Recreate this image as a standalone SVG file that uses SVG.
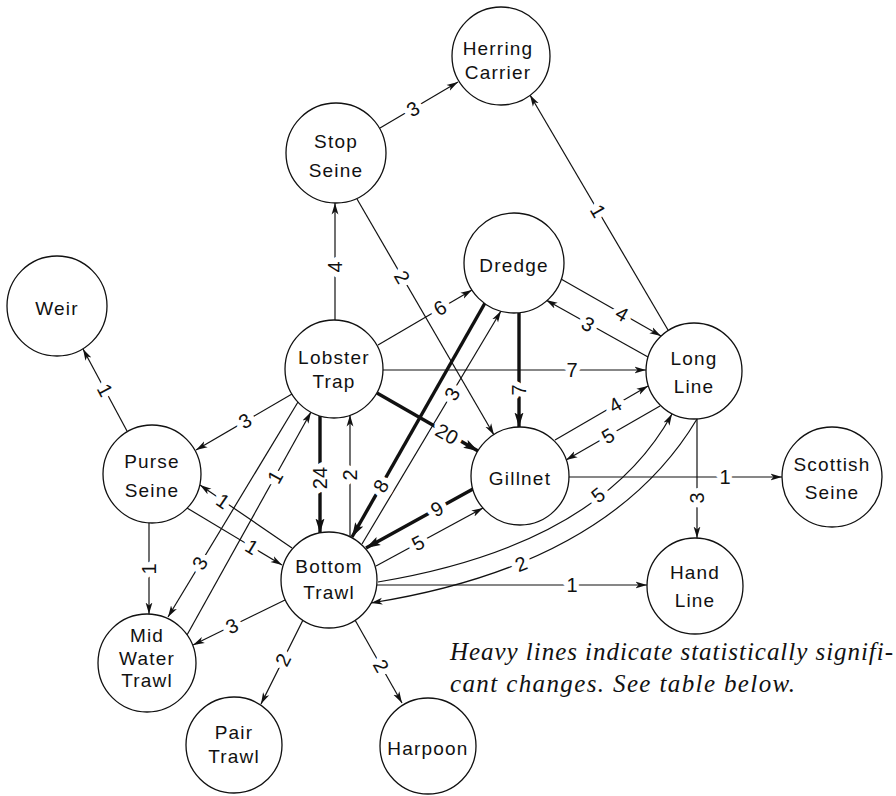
<svg xmlns="http://www.w3.org/2000/svg" width="896" height="796" viewBox="0 0 896 796">
<defs>
<style>
.e{fill:none;stroke:#111;stroke-width:1.2;marker-end:url(#a)}
.h{fill:none;stroke:#111;stroke-width:3.4;marker-end:url(#ah)}
.lb{font-family:"Liberation Sans",Arial,sans-serif;font-size:20px;fill:#111;text-anchor:middle;dominant-baseline:central;stroke:#fff;stroke-width:11px;stroke-linejoin:round;paint-order:stroke}
.n circle{fill:#fff;stroke:#111;stroke-width:1.3}
.n text{font-family:"Liberation Sans",Arial,sans-serif;font-size:19px;letter-spacing:1.2px;fill:#111;text-anchor:middle}
.cap{font-family:"Liberation Serif","Times New Roman",serif;font-style:italic;font-size:25px;fill:#111}
</style>
<marker id="a" markerUnits="userSpaceOnUse" markerWidth="12" markerHeight="8" viewBox="0 0 12 8" refX="11.5" refY="4" orient="auto"><path d="M0,0.6 L11.5,4 L0,7.4 L3,4 z" fill="#111"/></marker>
<marker id="ah" markerUnits="userSpaceOnUse" markerWidth="15" markerHeight="10" viewBox="0 0 15 10" refX="14.5" refY="5" orient="auto"><path d="M0,0.5 L14.5,5 L0,9.5 L3,5 z" fill="#111"/></marker>
</defs>
<rect width="896" height="796" fill="#fff"/>
<g id="connectors">
<path class="e" d="M380,128 L458,82"/>
<path class="e" d="M668,330 L530,95"/>
<path class="e" d="M335,320 L335,203"/>
<path class="e" d="M357,199 L494,435"/>
<path class="e" d="M378,345 L472,290"/>
<path class="e" d="M383,370 L646,370"/>
<path class="h" d="M377,393 L478,451"/>
<path class="e" d="M292,394 L196,450"/>
<path class="h" d="M320,416 L320,533"/>
<path class="e" d="M350,537 L350,415"/>
<path class="e" d="M362,544 L501,311"/>
<path class="h" d="M485,303 L352,537"/>
<path class="h" d="M519,313 L519,427"/>
<path class="e" d="M561,279 L661,336"/>
<path class="e" d="M648,357 L546,300"/>
<path class="e" d="M555,440 L648,386"/>
<path class="e" d="M660,406 L566,460"/>
<path class="e" d="M569,477 L782,477"/>
<path class="e" d="M697,419 L697,538"/>
<path class="h" d="M473,489 L366,548"/>
<path class="e" d="M376,566 L483,508"/>
<path class="e" d="M378,582 Q600,545 672,414"/>
<path class="e" d="M697,419 Q610,565 371,603"/>
<path class="e" d="M377,585 L647,585"/>
<path class="e" d="M292,548 L200,485"/>
<path class="e" d="M187,508 L282,565"/>
<path class="e" d="M127,431 L83,349"/>
<path class="e" d="M149,523 L149,614"/>
<path class="e" d="M298,402 L168,617"/>
<path class="e" d="M187,635 L311,412"/>
<path class="e" d="M285,600 L193,645"/>
<path class="e" d="M303,620 L261,704"/>
<path class="e" d="M355,620 L402,703"/>
<g id="edge-labels">
<text class="lb" transform="translate(413,109) rotate(-30.5)">3</text>
<text class="lb" transform="translate(598,211) rotate(59.7)">1</text>
<text class="lb" transform="translate(335,267) rotate(-90)">4</text>
<text class="lb" transform="translate(402,277) rotate(59.9)">2</text>
<text class="lb" transform="translate(440,308) rotate(-30.3)">6</text>
<text class="lb" transform="translate(572,370)">7</text>
<text class="lb" transform="translate(447,434) rotate(29.8)">20</text>
<text class="lb" transform="translate(245,421) rotate(-30.2)">3</text>
<text class="lb" transform="translate(320,478) rotate(-90)">24</text>
<text class="lb" transform="translate(350,475) rotate(-90)">2</text>
<text class="lb" transform="translate(452,394) rotate(-59.2)">3</text>
<text class="lb" transform="translate(381,486) rotate(-60.4)">8</text>
<text class="lb" transform="translate(519,390) rotate(-90)">7</text>
<text class="lb" transform="translate(622,314) rotate(29.7)">4</text>
<text class="lb" transform="translate(588,324) rotate(29.1)">3</text>
<text class="lb" transform="translate(615,405) rotate(-30)">4</text>
<text class="lb" transform="translate(608,436) rotate(-30.1)">5</text>
<text class="lb" transform="translate(725,477)">1</text>
<text class="lb" transform="translate(697,498) rotate(-90)">3</text>
<text class="lb" transform="translate(437,509) rotate(-29)">9</text>
<text class="lb" transform="translate(418,543) rotate(-28.4)">5</text>
<text class="lb" transform="translate(598,495) rotate(-38)">5</text>
<text class="lb" transform="translate(521,564) rotate(-22)">2</text>
<text class="lb" transform="translate(572,585)">1</text>
<text class="lb" transform="translate(223,501) rotate(34.3)">1</text>
<text class="lb" transform="translate(252,547) rotate(31.1)">1</text>
<text class="lb" transform="translate(105,390) rotate(61.9)">1</text>
<text class="lb" transform="translate(149,569) rotate(-90)">1</text>
<text class="lb" transform="translate(200,563) rotate(-58.8)">3</text>
<text class="lb" transform="translate(275,477) rotate(-60.9)">1</text>
<text class="lb" transform="translate(232,626) rotate(-26)">3</text>
<text class="lb" transform="translate(283,660) rotate(-63.4)">2</text>
<text class="lb" transform="translate(381,666) rotate(60.5)">2</text>
</g>
</g>
<g id="herring-carrier" class="n"><circle cx="501" cy="56" r="49"/><text x="498" y="55">Herring</text><text x="498" y="79">Carrier</text></g>
<g id="stop-seine" class="n"><circle cx="336" cy="153" r="50"/><text x="336" y="148">Stop</text><text x="336" y="177">Seine</text></g>
<g id="dredge" class="n"><circle cx="514" cy="263" r="50"/><text x="514" y="272">Dredge</text></g>
<g id="weir" class="n"><circle cx="57" cy="306" r="50"/><text x="57" y="315">Weir</text></g>
<g id="lobster-trap" class="n"><circle cx="334" cy="369" r="49"/><text x="334" y="364">Lobster</text><text x="334" y="388">Trap</text></g>
<g id="long-line" class="n"><circle cx="694" cy="371" r="48"/><text x="694" y="365">Long</text><text x="694" y="393">Line</text></g>
<g id="purse-seine" class="n"><circle cx="152" cy="474" r="49"/><text x="152" y="468">Purse</text><text x="152" y="497">Seine</text></g>
<g id="gillnet" class="n"><circle cx="520" cy="476" r="49"/><text x="520" y="485">Gillnet</text></g>
<g id="scottish-seine" class="n"><circle cx="832" cy="477" r="50"/><text x="832" y="471">Scottish</text><text x="832" y="499">Seine</text></g>
<g id="bottom-trawl" class="n"><circle cx="329" cy="580" r="48"/><text x="329" y="573">Bottom</text><text x="329" y="599">Trawl</text></g>
<g id="hand-line" class="n"><circle cx="695" cy="586" r="48"/><text x="695" y="579">Hand</text><text x="695" y="607">Line</text></g>
<g id="mid-water-trawl" class="n"><circle cx="147" cy="663" r="49"/><text x="147" y="642">Mid</text><text x="147" y="665">Water</text><text x="147" y="687">Trawl</text></g>
<g id="pair-trawl" class="n"><circle cx="234" cy="745" r="48"/><text x="234" y="739">Pair</text><text x="234" y="763">Trawl</text></g>
<g id="harpoon" class="n"><circle cx="428" cy="746" r="48"/><text x="428" y="755">Harpoon</text></g>
<g id="caption">
<text class="cap" x="450" y="660" textLength="443" lengthAdjust="spacing">Heavy lines indicate statistically signifi-</text>
<text class="cap" x="450" y="692" textLength="345" lengthAdjust="spacing">cant changes. See table below.</text>
</g>
</svg>
